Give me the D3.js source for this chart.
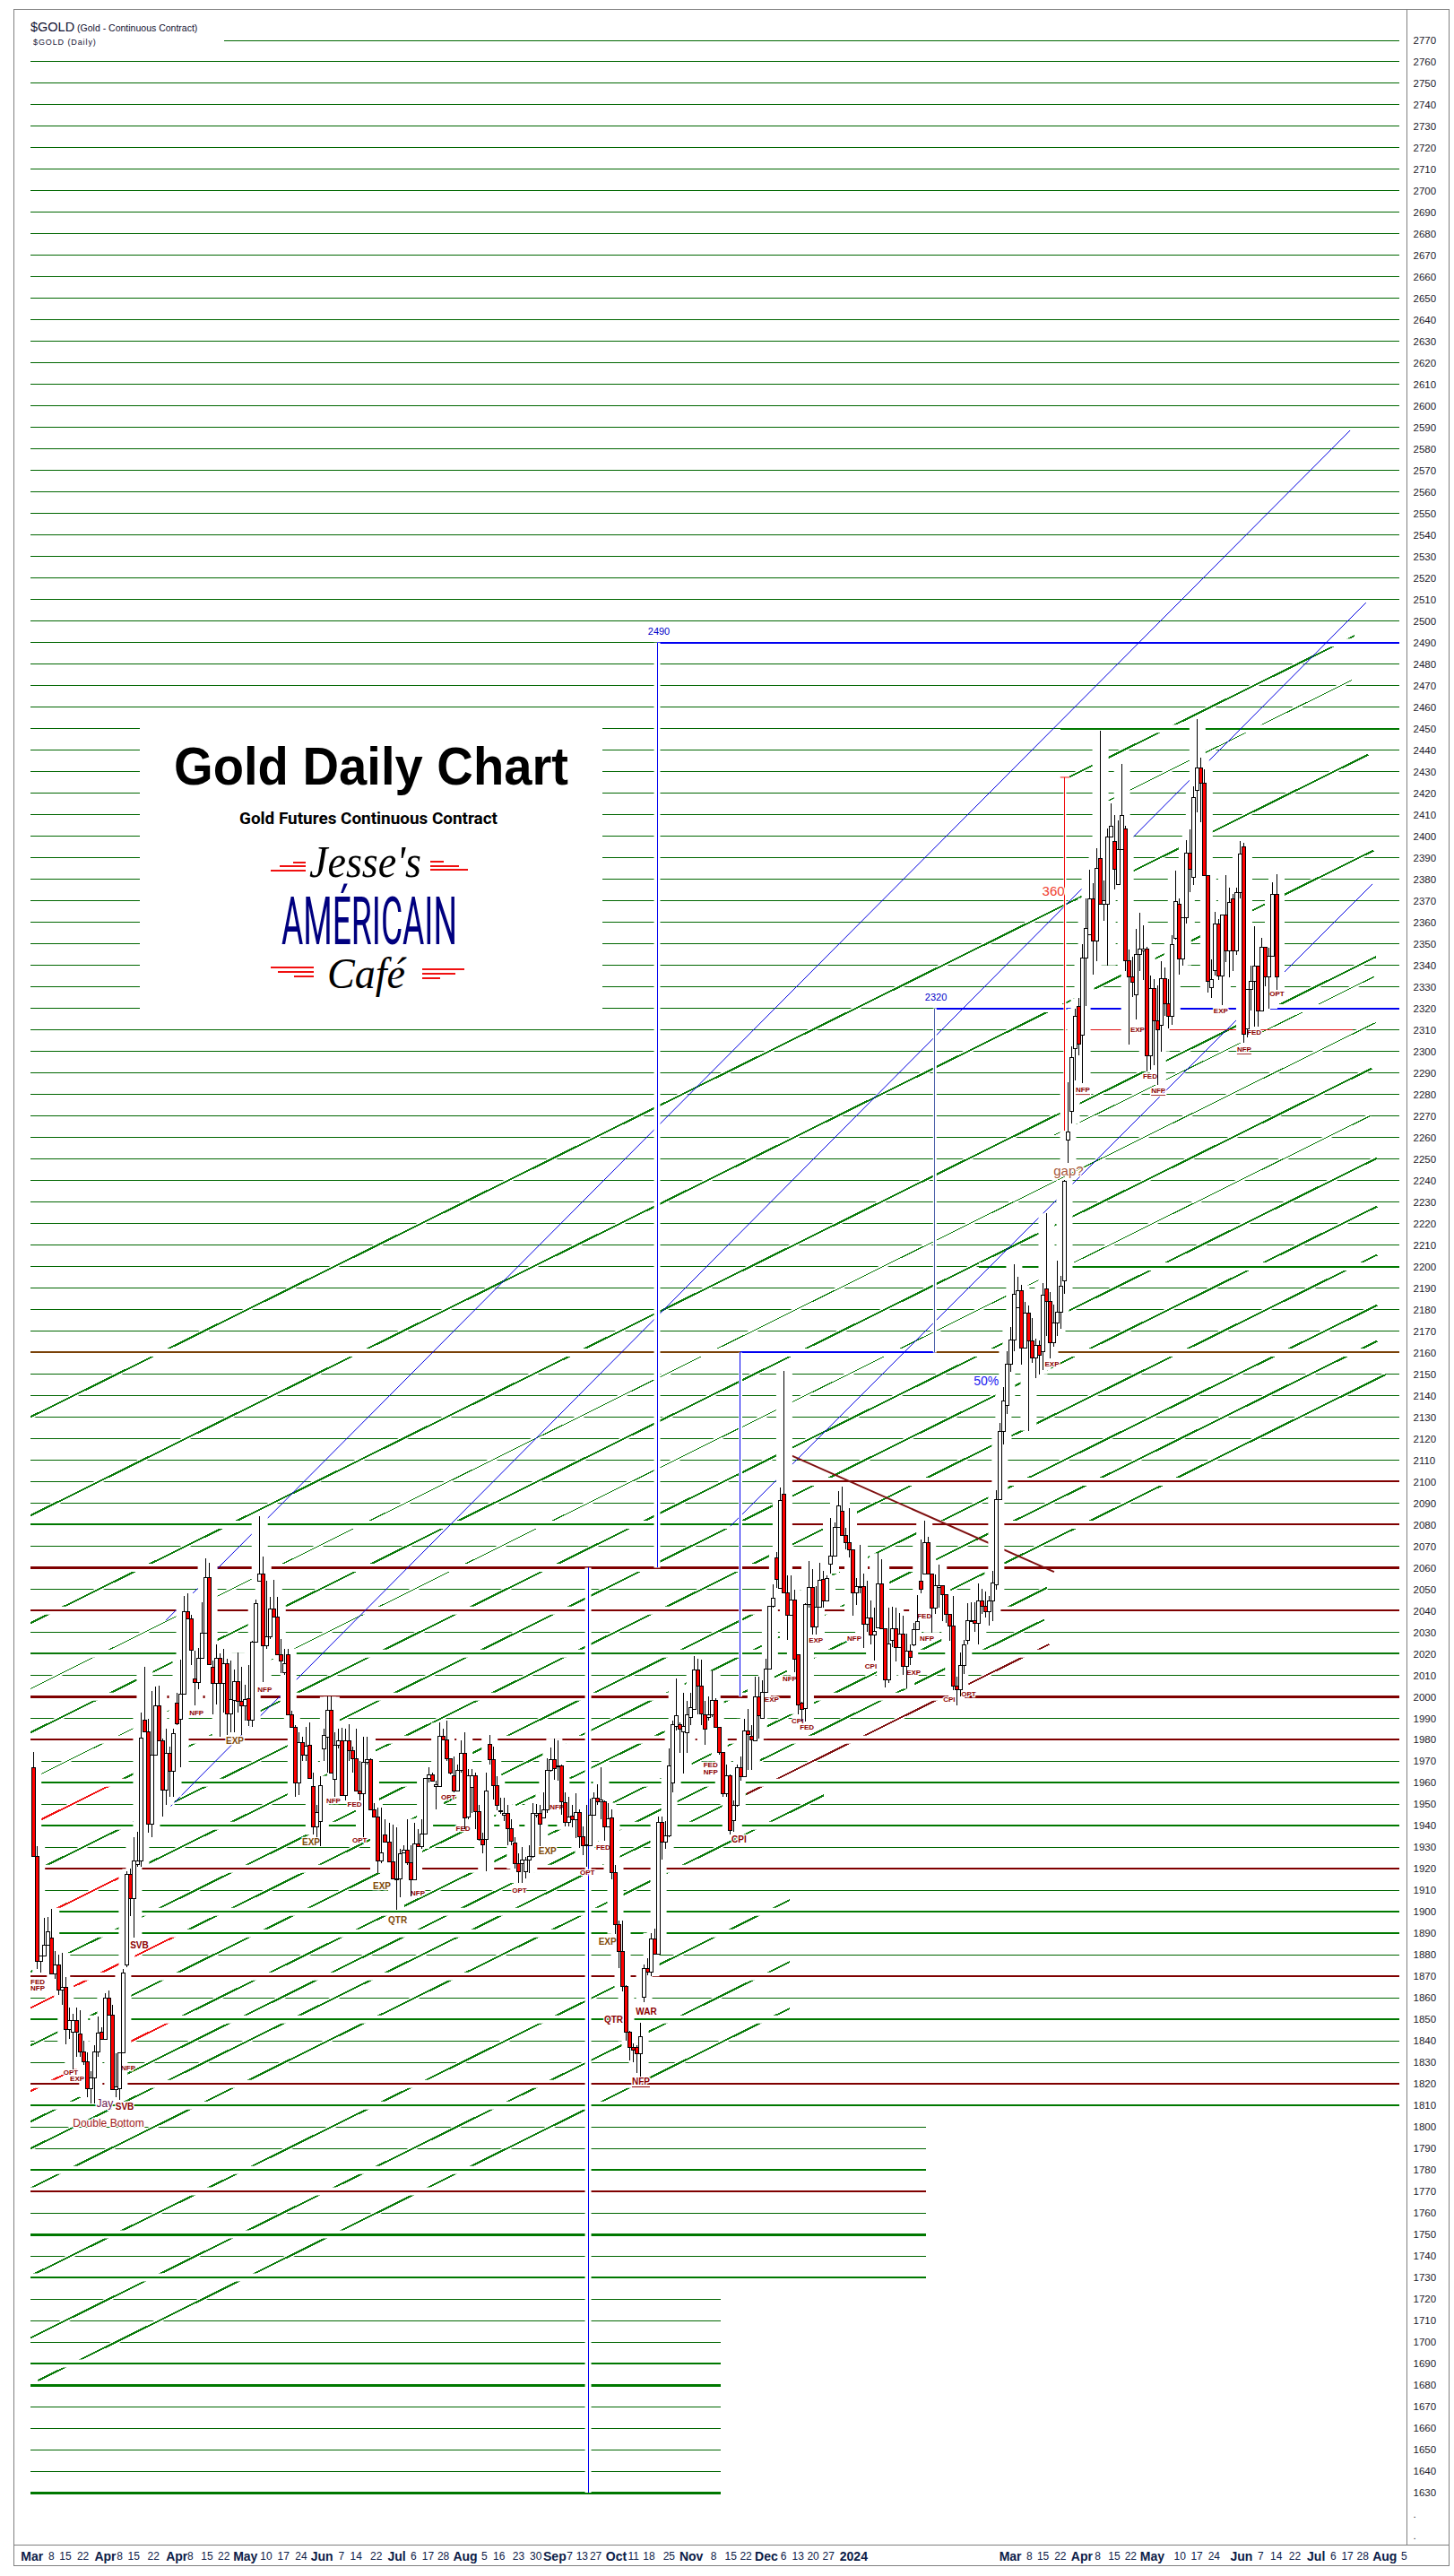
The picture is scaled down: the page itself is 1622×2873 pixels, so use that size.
<!DOCTYPE html>
<html>
<head>
<meta charset="utf-8">
<title>Gold Daily Chart</title>
<script src="https://cdn.jsdelivr.net/npm/d3@7"></script>
<style>
    body { margin: 0; background: #fff; }
    svg { display: block; }
    text { font-family: "Liberation Sans", Arial, sans-serif; }
</style>
</head>
<body>
<div id="chart"></div>
<script>
// daily bars, one row per 10 bars
var highs = [
1974.3,1930.6,1879.4,1897.2,1897.6,1901.3,1881.8,1879.9,1880.9,1869.7,
1855.7,1852.6,1855.7,1854.4,1839.9,1834.7,1826,1838,1851.4,1846.4,
1862.2,1863.6,1856.7,1834.3,1834.7,1873.4,1919,1920,1934.5,1937.1,
1992.6,2014,1989.8,2002.8,2004.7,2005.1,1980.5,1985.1,1976.8,1985.1,
2001.9,2017.2,2047,2048.1,2038.2,2021.4,2022.8,2043.8,2064.3,2062.4,
2016.8,2024.2,2020.1,2022.4,2017.7,2016.8,2012.5,2020.5,2014,2005.6,
2014.6,2026.1,2045.1,2084,2065.2,2054,2046.6,2054.4,2046.6,2027,
2022.4,2022.4,1993.5,1987,1983.6,1981.4,1986.1,1987.9,1964.7,1949.8,
1963.2,1985.1,2000,2000,1983.3,1985.1,1985.5,1985.1,1987.4,1976.8,
1985.1,1970.2,1981.4,1981.4,1971.2,1950.7,1948.5,1948.3,1943.2,1941.4,
1940.5,1939.1,1929.3,1931.1,1943.2,1931.1,1941.4,1938.6,1943.2,1962.4,
1967.4,1964.7,1960.9,1987.9,1985.1,1988.9,1971.2,1972.1,1968.4,1979.6,
1983.6,1966.5,1966.5,1964.7,1949.8,1936.7,1964.7,1982.3,1976.8,1963.2,
1953.1,1953.1,1949.8,1943.2,1934.9,1927.4,1930.2,1925.6,1931.1,1950.7,
1950.1,1949.8,1955.4,1971.2,1976.2,1980.5,1979.6,1968.4,1955.4,1953.5,
1949.8,1955,1947.5,1939.5,1949.8,1952.6,1955.4,1959.1,1967.1,1951.6,
1950.7,1947.5,1921.8,1895.8,1896.1,1866,1844.6,1839,1838,1848.3,
1875.3,1878.6,1890.2,1892,1944.2,1944.2,1942.3,1975.8,1988.9,2008.4,
1987.9,2001.9,1998.2,2001.9,2018.7,2017.7,2017.2,1998.2,2000,2012.1,
1999.1,1986.1,1974,1968.4,1963.7,1951.6,1968.4,1972.1,1989.8,1994.4,
1987,2009.3,2009.3,2007.5,2017.7,2041.9,2052.2,2067.3,2097.1,2151.3,
2056.5,2056.5,2049.6,2019.4,1997.5,2043.3,2063.2,2059.3,2051.6,2062.1,
2058.6,2056.5,2083.2,2080.8,2095.7,2097.5,2078.7,2087.8,2068.3,2055.1,
2070.4,2057.2,2053.7,2044.7,2041.2,2066.7,2064.1,2031.5,2041.2,2041.9,
2041.2,2038.7,2037.8,2029.4,2024.5,2034.3,2047.1,2073.2,2081.9,2074.2,
2057,2057,2061.4,2051.6,2047.5,2038.4,2046.8,2009.3,2020.4,2026.6,
2043.3,2044,2044,2052.6,2050.3,2048.9,2046.8,2058.6,2096.1,2127.1,
2144,2160.7,2171.9,2201.1,2195.2,2191.3,2183.7,2181.9,2176.1,2166.6,
2165.6,2192.4,2224.7,2188.3,2182.3,2202.7,2195.5,2240.2,2285.8,2302.5,
2319.9,2324.7,2349.7,2371.3,2384.5,2378.2,2394.5,2449.1,2379.6,2403.6,
2415.3,2409.9,2407.4,2433.5,2404.9,2347.2,2344.2,2357,2364.3,2358.5,
2348.6,2335.1,2333.7,2330.5,2342.1,2338.9,2333.7,2353.9,2384,2371.3,
2362.2,2398.4,2403.2,2423.1,2454.4,2436.6,2431,2381.7,2342.8,2364.7,
2361.5,2363.3,2382,2376.1,2373.3,2376.1,2397.7,2397,2328.9,2340,
2358.3,2339.7,2352.8,2348.5,2348.3,2378.6,2382.4
];
var lows = [
1925.9,1873.4,1871.6,1879.4,1884.6,1871.2,1868.8,1861.3,1856.7,1838.4,
1840.8,1826.9,1832.5,1832.5,1828.7,1813.8,1810.7,1810.7,1832.5,1840.8,
1840.8,1852,1817.2,1813.8,1812.5,1834.3,1874.3,1898.2,1887.9,1920.9,
1920.9,1983.3,1936.7,1934.9,1973,1979.6,1944.2,1949.8,1953.5,1953.5,
1987,1967.4,2001.2,2036.3,2014.9,1995.8,2003.4,2017.7,2029.5,2014.9,
1991.7,1996.3,1981.4,1992.6,1982.3,1983.3,1983.3,1992.6,1982.3,1988.9,
1986.4,1986.1,2025.2,2053.5,2006.6,2022.4,2027,2036.9,2019.6,2010.8,
2010.3,1991.5,1985.7,1953.5,1954.4,1970.2,1970.2,1961.9,1935.8,1934.5,
1930.6,1970.2,1964.7,1964.3,1953.5,1975.8,1953.9,1951.6,1970.2,1964.7,
1956.3,1951.6,1934.9,1968.4,1947.5,1944.2,1918.1,1922.8,1932.6,1923.1,
1915.3,1901,1906.9,1927.4,1921.8,1907.3,1914.9,1930.2,1929.3,1936.3,
1960,1960.6,1947.5,1958.1,1979.6,1970.2,1963.7,1955.4,1956.3,1964.7,
1938.6,1943.2,1946,1938.6,1933,1927.4,1919,1968.4,1952,1947,
1945.7,1942.3,1931.1,1931.1,1920,1913.4,1913.4,1915.7,1918.1,1925.2,
1943.8,1930.6,1943.6,1946,1965.2,1961.5,1960.9,1945.1,1939.5,1939.5,
1939.1,1934.3,1929.7,1926.5,1920.9,1930.6,1945.1,1949.8,1943.2,1933,
1939.5,1915.3,1889.8,1873.8,1863.2,1839.9,1831,1830.2,1825,1823.5,
1858.1,1870.6,1870,1880.5,1880.5,1924.1,1929.3,1934.9,1955.7,1984.2,
1974,1964.3,1974,1987,1994.1,1991.7,1987,1977.7,1988.9,1990.7,
1985.5,1973,1953.5,1953.5,1935.8,1937.1,1948.8,1960.9,1962.8,1966.1,
1966.1,1979.6,1980.5,1990,2001.9,2012.7,2041.6,2050.7,2050.5,2048.4,
2026.6,2037.8,2011.4,1991.9,1988.4,1988.4,2041.6,2028.7,2028.7,2041.6,
2041.2,2044.7,2057.2,2065.3,2078.7,2075.1,2068.3,2064.6,2037.8,2042.6,
2048.2,2022.5,2030.1,2024.5,2016.9,2032.2,2031.8,2004.1,2006.5,2023.2,
2016.2,2022.5,2010,2003.7,2014.8,2023.4,2031.2,2048.2,2057,2057,
2029.8,2038.4,2041.2,2035,2034.3,2025.9,2003,1996.1,2000.2,2010.7,
2024.5,2035,2030.1,2024.5,2038.4,2037,2032.9,2035,2049.6,2091.5,
2117.4,2131.5,2151,2160.8,2180.9,2154.5,2162.2,2123.7,2155.2,2148.3,
2149.9,2151.7,2167.7,2157.3,2162.9,2167.7,2171.2,2187.4,2248,2266.3,
2286.5,2298.3,2285.1,2321.2,2353.9,2335.8,2342.1,2368.5,2360.8,2340,
2399.7,2375.4,2377.5,2393.9,2337.2,2303.2,2325.4,2315,2337.2,2333.1,
2290.7,2291.4,2293.4,2284.4,2300,2316.4,2310.8,2312.2,2351.8,2335.8,
2340,2359.5,2374,2377.5,2411.3,2406.4,2381.7,2327.5,2325,2335.1,
2333.1,2321.7,2341.4,2334.4,2337.2,2344.9,2371.3,2303.9,2306.4,2319.2,
2311.5,2311.5,2318.9,2330.3,2319.8,2344.3,2328.6
];
var opens = [
1966.9,1925.9,1877.1,1879.4,1884.6,1887.9,1871.2,1875.3,1863.6,1864.7,
1845.1,1844,1849.6,1843.1,1834.9,1830.2,1817.6,1822.8,1834.7,1844,
1840.8,1860,1852,1817.2,1817.6,1834.3,1875.3,1917.2,1906,1921.8,
1923.5,1988.9,1983.6,1940.8,1973,1995.8,1979.6,1956.5,1973.6,1965.2,
1997.2,1989.4,2001.2,2039.5,2036.3,2008.2,2006.6,2017.7,2029.5,2055.3,
2013.6,2006,2017.7,2006,2015.3,1992.2,1998.2,2007.1,1997.8,1995.8,
1999.1,1989.2,2025.2,2053.5,2057,2023.7,2028,2040.6,2036.9,2019.6,
2011.2,2019.6,1991.5,1985.7,1960,1978.6,1972.7,1977.3,1958.1,1939.5,
1941.9,1975.8,1981,1993.5,1961.5,1977.3,1979.6,1953.9,1979.6,1974.9,
1971.2,1956.3,1955,1969.3,1970.6,1947.5,1944.2,1923.7,1935.6,1932.6,
1923.1,1915.3,1915.3,1927.4,1928.7,1922.8,1914.9,1931.5,1930.2,1936.3,
1961.9,1963.7,1958.1,1958.1,1981.4,1979.9,1971.2,1963.2,1956.3,1965.6,
1973.6,1944.2,1957.8,1963.2,1946.4,1933.6,1933.6,1977.7,1970.6,1958.7,
1946.4,1944.7,1945.7,1938.6,1932.1,1922.2,1922.2,1918.5,1924.1,1925.6,
1945.1,1945.7,1943.6,1947.3,1965.6,1970.6,1967.3,1967.8,1950.7,1941.4,
1944.5,1943,1946,1934.9,1930.6,1930.6,1945.1,1952.7,1951,1951,
1939.5,1943.6,1918.1,1893.9,1881.4,1865.4,1844.2,1837.1,1837.1,1834,
1860.4,1873.8,1871.9,1887.4,1880.5,1941.4,1932.6,1935.2,1960,1986.1,
1987,1983.8,1983.3,1990.2,1994.1,2012.5,2005.1,1991.7,1990.5,1991.7,
1998.2,1985.9,1974,1955,1963.4,1942.3,1949.4,1967.1,1962.8,1984,
1981.4,1979.6,2000,1990,2001.9,2012.7,2041.9,2064.6,2050.5,2094.3,
2048.2,2038,2045,2019.4,1997,1994.7,2042.9,2050.7,2032.6,2041.6,
2054.7,2044.7,2061.6,2065.3,2078.7,2086.2,2075.1,2071.8,2068.3,2048.4,
2050.7,2051.2,2033.6,2036.4,2028.7,2032.2,2052.3,2031.5,2007.9,2026,
2031.5,2022.9,2029,2014.1,2021.2,2023.9,2031.2,2053.7,2057,2071.8,
2057,2041.2,2050.7,2051.6,2047.5,2038.4,2032.9,2005.1,2003.3,2014.5,
2026.2,2035,2035.4,2034,2044.4,2041.9,2039.6,2044.4,2051.9,2091.5,
2123.2,2135.3,2154.5,2165.9,2180.9,2188.8,2162.2,2178.4,2165.6,2157.3,
2163.3,2160.5,2189.7,2183.7,2164.7,2173.8,2178.8,2193.4,2258.9,2272.3,
2301.1,2321,2307.6,2343.5,2354.2,2370.8,2351.1,2389.7,2368.5,2368.5,
2399.7,2397.7,2377.5,2393.9,2403.5,2342.2,2334.7,2326.4,2345.1,2346.9,
2347.6,2298,2329.2,2314.3,2312.2,2333.7,2322.2,2316.1,2352.5,2368.5,
2342.8,2362.2,2392.2,2381,2421.4,2431.7,2424.8,2381.7,2329.7,2337.5,
2359.2,2335.1,2363.3,2346.7,2370.8,2346.7,2373.8,2395.2,2310.5,2328.9,
2332.6,2339.7,2318.9,2348.5,2334.7,2344.3,2373.1
];
var closes = [
1925.9,1877.1,1879.4,1884.6,1890.9,1871.2,1875.3,1863.6,1864.7,1845.1,
1849.6,1849.6,1844,1834.9,1830.2,1817.6,1822.8,1834.7,1843.6,1840.8,
1860,1852,1817.2,1818.7,1834.3,1871.6,1917.2,1906,1923.5,1923.5,
1980.8,1983.6,1940.8,1973,1995.8,1979.6,1956.5,1973.6,1965.2,1982.7,
1987.4,2001.2,2039.5,2036.3,2021.4,2006.6,2017.7,2029.5,2055.3,2014.9,
2006,2017.7,2006,2015.3,1992.2,1998.5,2007.1,1997.8,1995.8,1998.5,
1989.2,2025.2,2043.4,2057,2023.7,2028,2040.6,2036.9,2019.6,2016.4,
2015.3,1991.5,1985.7,1960,1978.6,1972.7,1977.1,1961.9,1939.5,1946,
1958.7,1981.8,1993.5,1964.3,1977.3,1979.6,1953.9,1979.6,1974.9,1971.2,
1956.3,1955,1969.3,1970.6,1947.5,1944.2,1923.7,1927.4,1932.6,1923.1,
1915.3,1915.1,1927,1928.7,1922.8,1914.9,1931.5,1930.2,1936.3,1961.9,
1963.7,1960.6,1959.1,1981.4,1979.9,1971.2,1964.7,1956.3,1965.6,1973.6,
1943.8,1963.2,1963.2,1946.4,1933.6,1931.1,1956.3,1970.6,1958.7,1949.4,
1947,1945.7,1938.6,1933,1922.2,1918.5,1924.1,1924.1,1925.6,1945.7,
1945.7,1940.8,1947.3,1965.6,1970.6,1966.5,1967.8,1951.2,1941.4,1944.2,
1943,1946,1934.9,1930.6,1931.1,1945.1,1952.7,1951,1952,1939.5,
1943.2,1918.1,1893.9,1881.4,1865.4,1844.2,1837.1,1835.8,1834,1842.1,
1873.8,1871.9,1887.4,1880.5,1941.4,1932.6,1935.2,1967.8,1987,1991.1,
1985.1,1986.1,1991.7,1995,2012.5,2005.1,1992,1984.8,1991.7,1998.2,
1985.9,1974,1955,1963.4,1938,1949.4,1967.1,1962.8,1984,1982.3,
1979.9,2000,1991.1,2001.9,2012.7,2041.9,2045.8,2054.7,2091.2,2048.4,
2038,2045,2017.6,1996.1,1994,2042.9,2050.7,2032.6,2041.6,2054,
2044.7,2054.8,2065.3,2078.7,2088.7,2075.1,2071.8,2068.3,2048.4,2051.2,
2051.2,2033.6,2036.4,2028.7,2030.4,2052.3,2031.8,2007.9,2024.5,2031.5,
2022.9,2029,2014.1,2021.2,2018.3,2031.2,2035,2050,2071.8,2057,
2041.2,2051.6,2051.6,2047.5,2038.4,2032.9,2005.1,2003.3,2014.5,2024.1,
2035.4,2035.4,2034,2044.4,2041.9,2039.6,2044.4,2053,2091.5,2123.2,
2137.5,2154.5,2165.9,2187.2,2188.8,2162.2,2178.4,2165.6,2157.3,2163.3,
2158.7,2186.8,2183.7,2164.7,2173.8,2178.8,2190.9,2239.7,2262.5,2297.2,
2316.1,2303.5,2343.5,2357.2,2370.8,2351.1,2385.2,2368.5,2369.9,2399.7,
2404.7,2384.7,2393.9,2409.8,2342.2,2334.7,2332.2,2345.1,2347.6,2347.6,
2298,2329.2,2314.3,2310.1,2333.7,2322.2,2316.1,2349.7,2369.6,2342.8,
2362.2,2392.2,2384.5,2418.1,2431.7,2424.8,2381.7,2332.6,2333.5,2359.2,
2335.1,2363.3,2346.7,2369.2,2346.7,2373.8,2391.8,2308,2328.9,2332.6,
2339.7,2318.9,2348.5,2334.7,2344.3,2373.1,2334.7
];

// date labels under the chart, [bar, label]
var dateLabels = ["Mar","8","15","22","Apr","8","15","22","Apr","8","15","22","May","10","17","24","Jun","7","14","22","Jul","6","17","28","Aug","5","16","23","30","Sep","7","13","27","Oct","11","18","25","Nov","8","15","22","Dec","6","13","20","27","2024","Mar","8","15","22","Apr","8","15","22","May","10","17","24","Jun","7","14","22","Jul","6","17","28","Aug","5"];
var dateBars = [-0.5,4.9,8.8,13.7,19.9,23.9,27.8,33.3,39.8,43.6,48.2,52.9,58.9,64.7,69.5,74.4,80.2,85.6,89.7,95.3,101,105.7,109.7,114,120.1,125.4,129.5,134.9,139.7,145,149.2,152.6,156.4,162.1,166.9,171.2,176.8,183,189.2,194,198.2,203.9,208.7,212.7,216.9,221.2,228.2,271.8,277.1,280.9,285.7,291.7,296.1,300.7,305.3,311.3,319,323.7,328.5,336.1,341.5,345.8,351,356.9,361.7,365.6,369.9,376,381.4];

// horizontal levels that are not plain thin green: level, first bar, last bar, style
var specialLevels = [
    [2490, 173.6, 380.2, "blue"], [2450, 285.9, 380.2, "green3"], [2320, 250.9, 380.2, "blue"],
    [2310, 287.6, 367.2, "red1"], [2200, 263.2, 380.2, "green3"], [2160, -0.8, 380.2, "brown"],
    [2160, 196.8, 250.9, "blue"], [2100, 208, 380.2, "dred2"], [2080, -0.8, 210.3, "green3"],
    [2080, 210.3, 380.2, "dred2"], [2060, -0.8, 380.2, "dred3"], [2040, -0.8, 380.2, "dred2"],
    [2020, -0.8, 380.2, "green2"], [2000, -0.8, 380.2, "dred3"], [1980, -0.8, 380.2, "dred2"],
    [1960, -0.8, 380.2, "green3"], [1940, -0.8, 380.2, "green3"], [1920, -0.8, 380.2, "dred2"],
    [1900, -0.8, 380.2, "green3"], [1890, -0.8, 380.2, "green3"], [1870, -0.8, 380.2, "dred2"],
    [1850, -0.8, 380.2, "green3"], [1820, -0.8, 380.2, "dred2"], [1810, -0.8, 380.2, "green3"],
    [1780, -0.8, 248.4, "green3"], [1770, -0.8, 248.4, "dred2"], [1750, -0.8, 248.4, "green4"],
    [1730, -0.8, 248.4, "green3"], [1690, -0.8, 191.3, "green3"], [1680, -0.8, 191.3, "green4"],
    [1630, -0.8, 191.3, "green4"]
];
var levelStyles = {
    blue: ["#0000f0", 2], green2: ["#0a780a", 2], green3: ["#007800", 2], green4: ["#007800", 3],
    brown: ["#7a4208", 2], dred2: ["#7f0000", 2], dred3: ["#7f0000", 3], red1: ["#e01010", 1]
};

// rising channel, price at bar 0, first bar, last bar, width
var channelSlope = 0.827;
var channelLines = [
    [2189.1, 288.4, 367.7, 2], [2169.1, 297.6, 367, 1], [2130.7, -0.8, 371.5, 2], [2084.9, -0.8, 373, 2],
    [2034.9, -0.8, 373.7, 2], [2026.1, 284.1, 373.2, 1], [2004.4, -0.8, 373.7, 1], [1984, -0.8, 372.5, 2],
    [1962.3, -0.8, 372.2, 1], [1941.1, -0.8, 374, 2], [1918.6, -0.8, 374, 2], [1896.1, -0.8, 374, 2],
    [1872.7, -0.8, 374, 2], [1856, -0.8, 374, 2], [1838.5, -0.8, 376.3, 2], [1817.3, -0.8, 282.1, 2],
    [1803.1, -0.8, 281.4, 2], [1790.6, -0.8, 282.7, 2], [1772.2, -0.8, 220, 2], [1731.4, -0.8, 210.5, 2],
    [1702.6, -0.8, 210.5, 2], [1681, 1.2, 210.5, 2]
];
// parts of the channel lines drawn in another colour
var channelOverlays = [
    [1941.1, -0.8, 24.9, "#f01010"], [1896.1, -0.8, 24.1, "#f01010"], [1856, -0.8, 41.9, "#f01010"],
    [1817.3, -0.8, 38.9, "#f01010"], [1790.6, 198.5, 282.7, "#7f1010"]
];
// other trend lines: bar, price, bar, price, colour, width
var trendLines = [
    [37.6, 1948, 370.9, 2508.6, "#0000e0", 1], [36.9, 2035.5, 366.5, 2588.7, "#0000e0", 1],
    [194, 2079.3, 372.7, 2377.8, "#0000e0", 1], [210.3, 2112.6, 284.1, 2058, "#7f1010", 2]
];
// vertical measures: bar, from price, to price, colour, casing
var measures = [
    [173.6, 2490, 2060, "#0000f0", 7], [154.4, 2060, 1630, "#0000f0", 7], [196.8, 2160, 2000, "#0000f0", 4],
    [250.9, 2320, 2160, "#4a5fa8", 4], [287.1, 2427.4, 2263, "#f01010", 3]
];

// event notes on the chart
var noteTexts = ["FED","NFP","SVB","OPT","EXP","NFP","Jay","SVB","Double Bottom","EXP","NFP","NFP","EXP","NFP","FED","OPT","EXP","QTR","NFP","FED","OPT","NFP","EXP","OPT","OPT","FED","EXP","QTR","WAR","NFP","CPI","FED","NFP","EXP","CPI","FED","EXP","NFP","NFP","CPI","EXP","FED","NFP","CPI","OPT","EXP","NFP","EXP","FED","NFP","EXP","NFP","FED","OPT","360","50%","gap?","2490","2320"];
var noteBars = [1.2,1.2,29.5,10.4,12.2,26.4,19.9,25.4,20.9,56.1,45.4,64.4,77.3,83.5,89.4,90.8,97,101.4,107,119.6,115.5,145.7,143.1,135.3,154.2,158.6,159.8,161.5,170.6,169.1,196.4,188.5,188.5,205.5,212.7,215.3,217.8,210.5,228.5,233.1,245,248,248.7,254.9,260.3,283.5,292.1,307.3,310.8,313.1,330.5,337,339.8,346.1,283.9,265.2,288.1,174.1,251.2];
var notePrices = [1867.5,1864.6,1884.6,1825.2,1822.5,1827.5,1810.8,1809.4,1801.9,1979.7,1992.6,2003.4,1932.6,1951.5,1949.9,1933.1,1912.1,1896.3,1908.6,1938.8,1953.2,1948.8,1928.1,1909.8,1918.2,1930.1,1886,1849.7,1853.8,1821.1,1933.5,1968.4,1965.1,1998.6,1988.8,1985.9,2026,2008.4,2027.2,2014.3,2011.3,2037.6,2027.2,1998.6,2001.3,2154.7,2282,2309.9,2288.3,2281.6,2319,2300.8,2308.7,2326.8,2374.8,2146.8,2244.4,2495.3,2325.2];
var noteKinds = ["s","s","b","s","s","s","j","b","d","e","s","s","e","s","s","s","e","e","s","s","s","s","e","s","s","s","e","b","b","u","b","s","s","s","s","s","s","s","s","s","s","s","s","s","s","s","v","s","s","v","s","v","s","s","r","p","g","l","l"];
var noteStyles = {
    s: ["#8b0000", 8, "bold", "'Liberation Sans Narrow','Liberation Sans'"],
    v: ["#8b0000", 8, "bold", "'Liberation Sans Narrow','Liberation Sans'"],
    b: ["#8b0000", 10, "bold", "'Liberation Sans'"],
    u: ["#8b0000", 10, "bold", "'Liberation Sans'"],
    e: ["#7f4a0a", 10, "bold", "'Liberation Sans'"],
    j: ["#6a2050", 12, "normal", "'Liberation Sans'"],
    d: ["#a01818", 12, "normal", "'Liberation Sans'"],
    r: ["#f04030", 15, "normal", "'Liberation Sans'"],
    p: ["#2020f0", 14, "normal", "'Liberation Sans'"],
    g: ["#a8583a", 15, "normal", "'Liberation Sans'"],
    l: ["#0000c8", 11, "normal", "'Liberation Sans'"]
};

var width = 1622, height = 2873;

var svg = d3.select("#chart").append("svg")
    .attr("width", width)
    .attr("height", height);

// one bar is about 4 pixels
var x = d3.scaleLinear().domain([0, 346]).range([37.2, 1424]);
var y = d3.scaleLinear().domain([2770, 1630]).range([45, 2780]);

var crisp = "crispEdges";

// Thin green grid, every 10 dollars.
var levels = d3.range(2770, 1620, -10);
svg.append("g").selectAll("line")
    .data(levels)
    .enter().append("line")
    .attr("x1", function (d) { return x(d == 2770 ? 53.1 : -0.8); })
    .attr("x2", function (d) { return x(d >= 1810 ? 380.2 : (d >= 1730 ? 248.4 : 191.3)); })
    .attr("y1", function (d) { return y(d); })
    .attr("y2", function (d) { return y(d); })
    .attr("stroke", "#006600")
    .attr("stroke-width", 1)
    .attr("shape-rendering", crisp);

// Channel lines, each with a white edge that breaks the grid.
function channelPrice(d, bar) { return d[0] + channelSlope * bar; }
svg.append("g").selectAll("line")
    .data(channelLines)
    .enter().append("line")
    .attr("x1", function (d) { return x(d[1]); })
    .attr("x2", function (d) { return x(d[2]); })
    .attr("y1", function (d) { return y(channelPrice(d, d[1])); })
    .attr("y2", function (d) { return y(channelPrice(d, d[2])); })
    .attr("stroke", "#fff")
    .attr("stroke-width", 5);
svg.append("g").selectAll("line")
    .data(channelLines)
    .enter().append("line")
    .attr("x1", function (d) { return x(d[1]); })
    .attr("x2", function (d) { return x(d[2]); })
    .attr("y1", function (d) { return y(channelPrice(d, d[1])); })
    .attr("y2", function (d) { return y(channelPrice(d, d[2])); })
    .attr("stroke", "#0a7a0a")
    .attr("stroke-width", function (d) { return d[3]; })
    .attr("shape-rendering", crisp);
svg.append("g").selectAll("line")
    .data(channelOverlays)
    .enter().append("line")
    .attr("x1", function (d) { return x(d[1]); })
    .attr("x2", function (d) { return x(d[2]); })
    .attr("y1", function (d) { return y(channelPrice(d, d[1])); })
    .attr("y2", function (d) { return y(channelPrice(d, d[2])); })
    .attr("stroke", function (d) { return d[3]; })
    .attr("stroke-width", 2)
    .attr("shape-rendering", crisp);

// Heavy levels, their white edge breaks the channel lines.
var heavy = specialLevels.filter(function (d) { return d[3] != "red1"; });
svg.append("g").selectAll("line")
    .data(heavy)
    .enter().append("line")
    .attr("x1", function (d) { return x(d[1]); })
    .attr("x2", function (d) { return x(d[2]); })
    .attr("y1", function (d) { return y(d[0]); })
    .attr("y2", function (d) { return y(d[0]); })
    .attr("stroke", "#fff")
    .attr("stroke-width", 9);
svg.append("g").selectAll("line")
    .data(specialLevels)
    .enter().append("line")
    .attr("x1", function (d) { return x(d[1]); })
    .attr("x2", function (d) { return x(d[2]); })
    .attr("y1", function (d) { return y(d[0]); })
    .attr("y2", function (d) { return y(d[0]); })
    .attr("stroke", function (d) { return levelStyles[d[3]][0]; })
    .attr("stroke-width", function (d) { return levelStyles[d[3]][1]; })
    .attr("shape-rendering", crisp);

// Blue and dark red trend lines.
svg.append("g").selectAll("line")
    .data(trendLines)
    .enter().append("line")
    .attr("x1", function (d) { return x(d[0]); })
    .attr("y1", function (d) { return y(d[1]); })
    .attr("x2", function (d) { return x(d[2]); })
    .attr("y2", function (d) { return y(d[3]); })
    .attr("stroke", function (d) { return d[4]; })
    .attr("stroke-width", function (d) { return d[5]; });

// White clearing around every bar.
var bars = d3.range(highs.length);
svg.append("g").selectAll("rect")
    .data(bars)
    .enter().append("rect")
    .attr("x", function (i) { return x(i) - 9; })
    .attr("width", 18)
    .attr("y", function (i) { return y(highs[i]); })
    .attr("height", function (i) { return y(lows[i]) - y(highs[i]); })
    .attr("fill", "#fff");

// Vertical measures.
svg.append("g").selectAll("line")
    .data(measures)
    .enter().append("line")
    .attr("x1", function (d) { return x(d[0]); })
    .attr("x2", function (d) { return x(d[0]); })
    .attr("y1", function (d) { return y(d[1]); })
    .attr("y2", function (d) { return y(d[2]); })
    .attr("stroke", "#fff")
    .attr("stroke-width", function (d) { return d[4]; });
svg.append("g").selectAll("line")
    .data(measures)
    .enter().append("line")
    .attr("x1", function (d) { return x(d[0]); })
    .attr("x2", function (d) { return x(d[0]); })
    .attr("y1", function (d) { return y(d[1]); })
    .attr("y2", function (d) { return y(d[2]); })
    .attr("stroke", function (d) { return d[3]; })
    .attr("stroke-width", 1)
    .attr("shape-rendering", crisp);
svg.append("line")
    .attr("x1", x(285.8)).attr("x2", x(288.4))
    .attr("y1", y(2427.4)).attr("y2", y(2427.4))
    .attr("stroke", "#f01010");

// Notes.
svg.append("g").selectAll("text")
    .data(noteTexts)
    .enter().append("text")
    .text(function (d) { return d; })
    .attr("x", function (d, i) { return x(noteBars[i]); })
    .attr("y", function (d, i) { return y(notePrices[i]); })
    .attr("text-anchor", "middle")
    .attr("dominant-baseline", "central")
    .attr("fill", function (d, i) { return noteStyles[noteKinds[i]][0]; })
    .style("font-size", function (d, i) { return noteStyles[noteKinds[i]][1] + "px"; })
    .style("font-weight", function (d, i) { return noteStyles[noteKinds[i]][2]; })
    .style("font-family", function (d, i) { return noteStyles[noteKinds[i]][3]; })
    .style("text-decoration", function (d, i) { return "uv".indexOf(noteKinds[i]) >= 0 ? "underline" : "none"; })
    .style("paint-order", "stroke")
    .attr("stroke", "#fff")
    .attr("stroke-width", 2.5);

// Bars: wick first, then body.
var barGroup = svg.append("g");
bars.forEach(function (i) {
    barGroup.append("line")
        .attr("x1", x(i)).attr("x2", x(i))
        .attr("y1", y(highs[i])).attr("y2", y(lows[i]))
        .attr("stroke", "#000")
        .attr("stroke-width", 1)
        .attr("shape-rendering", crisp);
    var top = Math.max(opens[i], closes[i]);
    var bottom = Math.min(opens[i], closes[i]);
    barGroup.append("rect")
        .attr("x", x(i) - 2)
        .attr("width", 4)
        .attr("y", y(top))
        .attr("height", Math.max(y(bottom) - y(top), 1))
        .attr("fill", closes[i] < opens[i] ? "#ff0000" : "#ffffff")
        .attr("stroke", "#000")
        .attr("stroke-width", 1)
        .attr("shape-rendering", crisp);
});

// White title box and logo.
svg.append("rect")
    .attr("x", 156).attr("y", 802)
    .attr("width", 516).attr("height", 335)
    .attr("fill", "#fff");
svg.append("text").text("Gold Daily Chart")
    .attr("x", 194).attr("y", 875)
    .attr("textLength", 440).attr("lengthAdjust", "spacingAndGlyphs")
    .style("font-size", "60px").style("font-weight", "bold");
svg.append("text").text("Gold Futures Continuous Contract")
    .attr("x", 267).attr("y", 919)
    .attr("textLength", 288).attr("lengthAdjust", "spacingAndGlyphs")
    .style("font-size", "18.5px").style("font-weight", "bold").style("font-family", "Roboto");
svg.append("text").text("Jesse's")
    .attr("x", 345).attr("y", 978)
    .attr("textLength", 125).attr("lengthAdjust", "spacingAndGlyphs")
    .style("font-size", "50px").style("font-style", "italic").style("font-family", "'Liberation Serif'");
svg.append("text").text("AMÉRICAIN")
    .attr("x", 314).attr("y", 1053)
    .attr("textLength", 196).attr("lengthAdjust", "spacingAndGlyphs")
    .attr("fill", "#00007f")
    .style("font-size", "74px").style("font-family", "Roboto");
svg.append("text").text("Café")
    .attr("x", 365).attr("y", 1102)
    .attr("textLength", 87).attr("lengthAdjust", "spacingAndGlyphs")
    .style("font-size", "48px").style("font-style", "italic").style("font-family", "'Liberation Serif'");
var logoStripes = [
    [327, 341, 961], [312, 341, 965], [302, 341, 970], [480, 495, 960], [480, 512, 965], [480, 522, 969],
    [302, 350, 1078], [310, 350, 1083], [328, 350, 1088], [471, 518, 1080], [471, 508, 1085], [471, 491, 1090]
];
svg.append("g").selectAll("rect")
    .data(logoStripes)
    .enter().append("rect")
    .attr("x", function (d) { return d[0]; })
    .attr("width", function (d) { return d[1] - d[0]; })
    .attr("y", function (d) { return d[2]; })
    .attr("height", 2)
    .attr("fill", "#f01010");

// Frame.
svg.append("rect")
    .attr("x", 15.5).attr("y", 10.5)
    .attr("width", 1601).attr("height", 2851)
    .attr("fill", "none").attr("stroke", "#808080");
svg.append("line")
    .attr("x1", 15).attr("x2", 1616).attr("y1", 2838.5).attr("y2", 2838.5)
    .attr("stroke", "#808080");

// Price axis on the right.
var priceTicks = d3.range(2770, 1600, -10);
var yScaleFull = d3.scaleLinear().domain([2770, 1610]).range([y(2770), y(1610)]);
var yAxis = d3.axisRight(yScaleFull)
    .tickValues(priceTicks)
    .tickSize(0)
    .tickPadding(7)
    .tickFormat(function (d) { return d < 1630 ? "." : d; });
var yAxisG = svg.append("g")
    .attr("transform", "translate(1569.5,0)")
    .call(yAxis);
yAxisG.select(".domain").remove();
yAxisG.selectAll("text")
    .attr("fill", "#1a1a2a")
    .style("font-size", "11.5px")
    .style("font-family", "'Liberation Sans'");
svg.append("line")
    .attr("x1", 1569.5).attr("x2", 1569.5).attr("y1", 10).attr("y2", 2838)
    .attr("stroke", "#808080");

// Date axis.
var xAxis = d3.axisBottom(x)
    .tickValues(dateBars)
    .tickSize(0)
    .tickFormat(function (d, i) { return dateLabels[i]; });
var xAxisG = svg.append("g")
    .attr("transform", "translate(0,2843)")
    .call(xAxis);
xAxisG.select(".domain").remove();
xAxisG.selectAll("text")
    .attr("fill", "#0c2048")
    .style("font-family", "'Liberation Sans Narrow','Liberation Sans'")
    .style("font-size", function (d, i) { return isNaN(+dateLabels[i]) || dateLabels[i] == "2024" ? "14px" : "12px"; })
    .style("font-weight", function (d, i) { return isNaN(+dateLabels[i]) || dateLabels[i] == "2024" ? "bold" : "normal"; });

// Header.
var header = svg.append("text").attr("x", 34).attr("y", 35).attr("fill", "#101030");
header.append("tspan").text("$GOLD").style("font-size", "14.5px");
header.append("tspan").text(" (Gold - Continuous Contract)").style("font-size", "10.5px");
svg.append("text").text("$GOLD (Daily)")
    .attr("x", 37).attr("y", 50)
    .attr("fill", "#101030")
    .style("font-size", "9px")
    .style("letter-spacing", "0.9px");
</script>
</body>
</html>
